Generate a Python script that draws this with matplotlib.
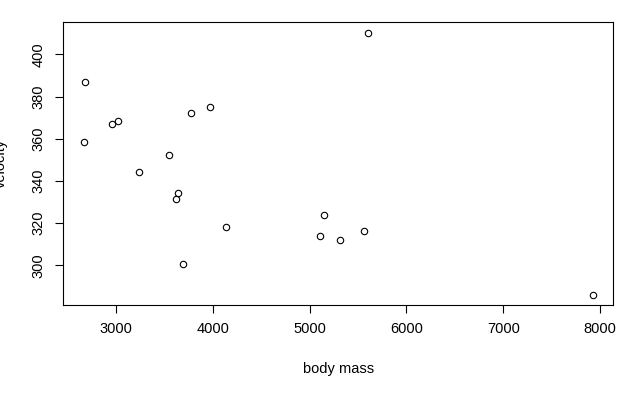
import matplotlib
matplotlib.use("Agg")
import matplotlib.pyplot as plt

plt.rcParams["font.family"] = ["Liberation Sans", "DejaVu Sans"]

# body mass vs. velocity
body_mass = [2683, 2669, 2959, 3025, 3242, 3553, 3780, 3977, 3646, 3625,
             3697, 4133, 5606, 5147, 5106, 5313, 5564, 7924]
velocity = [387.0, 358.4, 367.0, 368.4, 344.1, 352.2, 372.2, 375.1, 334.1, 331.3,
            300.8, 318.4, 410.3, 324.1, 314.1, 312.2, 316.5, 286.2]

x_ticks = [3000, 4000, 5000, 6000, 7000, 8000]
y_ticks = [300, 320, 340, 360, 380, 400]

W, H = 637, 394
fig = plt.figure(figsize=(W / 100, H / 100), dpi=100)
left, right, top, bottom = 63.3, 613.3, 22.3, 305.0
ax = fig.add_axes([left / W, 1 - bottom / H, (right - left) / W, (bottom - top) / H])

ax.plot(body_mass, velocity, linestyle="none", marker="o", markersize=4.6,
        markerfacecolor="none", markeredgecolor="black", markeredgewidth=0.8)

# R-style 4% padding on each side
def padded(vals):
    lo, hi = min(vals), max(vals)
    d = (hi - lo) * 0.04
    return lo - d, hi + d

ax.set_xlim(*padded(body_mass))
ax.set_ylim(*padded(velocity))
ax.set_xticks(x_ticks)
ax.set_yticks(y_ticks)
ax.tick_params(direction="out", length=6, width=0.8, labelsize=10.5, colors="black")
ax.tick_params(axis="x", pad=6.5)
ax.tick_params(axis="y", pad=6.5)
for lab in ax.get_yticklabels():
    lab.set_rotation(90)
    lab.set_va("center")
for s in ax.spines.values():
    s.set_linewidth(0.8)

fig.text((left + right) / 2 / W, 1 - 369 / H, "body mass", ha="center", va="center",
         fontsize=10.5)
# the reference crops the y label at the left edge
fig.text(7.5 / W, 1 - (top + bottom) / 2 / H, "velocity", ha="right", va="center",
         rotation=90, fontsize=10.5)

fig.savefig("out.png", dpi=100)
